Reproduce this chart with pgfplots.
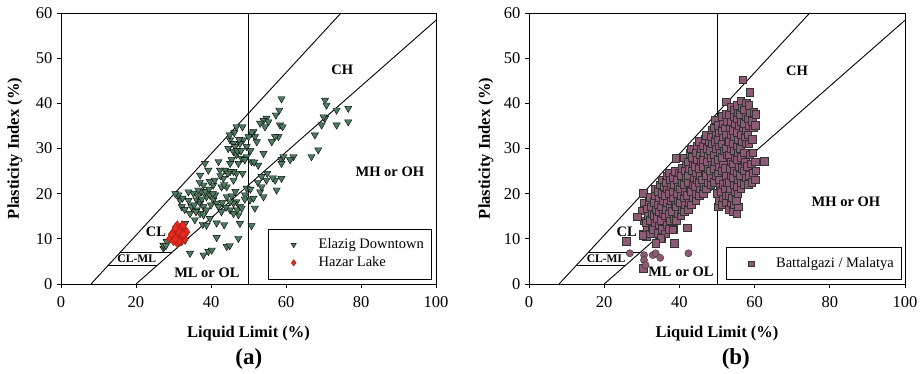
\documentclass[border=0pt]{standalone}
\usepackage{fontspec}
\setmainfont{Liberation Serif}
\usepackage{pgfplots}
\pgfplotsset{compat=1.18}
\definecolor{elz}{HTML}{4E7B60}
\definecolor{hzr}{HTML}{E62A1E}
\definecolor{btg}{HTML}{8C5A74}
\tikzset{lab/.style={font=\bfseries\fontsize{14.5}{17}\selectfont}}
\pgfplotsset{
  casa/.style={
    scale only axis, height=271pt, clip=false,
    xmin=0,xmax=100,ymin=0,ymax=60,
    xtick={0,20,...,100}, ytick={0,10,...,60},
    tick align=outside, xtick pos=bottom, ytick pos=left, major tick length=4pt,
    axis line style={line width=0.8pt}, tick style={line width=0.8pt, black},
    /pgf/number format/assume math mode=true,
    tick label style={font=\fontsize{16.5}{19}\selectfont, black},
    xticklabel style={yshift=-4.5pt},
    yticklabel style={xshift=-1pt},
    label style={font=\bfseries\fontsize{16.5}{19}\selectfont},
    xlabel={Liquid Limit (\%)}, ylabel={Plasticity Index (\%)},
    xlabel style={at={(axis description cs:0.5,-0.181)}, anchor=center},
    legend cell align=left,
    legend style={draw=black, line width=0.6pt, inner xsep=0pt, inner ysep=8.5pt,
      row sep=3pt, font=\fontsize{14.5}{17}\selectfont,
      nodes={inner sep=0pt, text height=11pt, text depth=4pt}},
  },
  zone/.style={black, line width=0.9pt, forget plot},
  legimg/.style={legend image code/.code={\path[draw=none] (0pt,0pt) -- (50pt,0pt); \draw[##1, only marks, mark size=#1] plot coordinates {(25pt,0pt)};}},
}
\begin{document}
\begin{tikzpicture}[x=1pt,y=1pt]
\useasboundingbox (0,0) rectangle (924,373);
% ---------------- (a)
\begin{axis}[casa, at={(61pt,89pt)}, anchor=south west, width=375pt,
  ylabel style={at={(axis description cs:-0.1227,0.5)}, anchor=center},
  legend style={at={(axis description cs:0.987,0.018)}, anchor=south east}]
\addplot[zone] coordinates {(8,0) (74.667,60)};
\addplot[zone] coordinates {(20,0) (100,58.4)};
\addplot[zone] coordinates {(50,0) (50,60)};
\addplot[zone] coordinates {(12.44,4) (25.48,4)};
\addplot[zone] coordinates {(15.78,7) (29.59,7)};
\addplot[only marks, mark=triangle*, mark size=4.2pt, mark options={rotate=180, fill=elz, draw=black, line width=0.4pt}, legimg=3pt] coordinates {
(58.8,41.0) (58.2,38.5) (57.3,37.4) (58.4,35.2) (59.1,34.8) (54.8,36.7) (54.0,36.2) (55.3,35.9)
(54.4,34.8) (53.1,35.6) (58.0,32.6) (57.1,32.6) (56.2,31.5) (51.3,33.7) (51.7,32.6) (52.2,31.5)
(54.0,28.9) (52.6,26.3) (50.8,33.4) (50.0,32.6) (49.5,30.4) (48.6,31.9) (47.7,31.1) (46.8,34.8)
(48.4,34.8) (45.1,31.9) (46.0,31.1) (44.6,30.0) (46.0,29.3) (46.8,28.6) (45.5,27.5) (48.2,27.8)
(49.5,28.2) (46.4,30.4) (45.1,26.7) (47.3,26.7) (48.4,24.5) (46.8,24.5) (46.0,24.9) (45.1,24.9)
(43.7,25.2) (42.4,25.2) (42.0,27.1) (43.3,23.4) (44.2,21.5) (42.8,21.5) (40.6,21.9) (39.7,22.7)
(39.3,25.2) (38.4,26.7) (37.1,24.1) (38.0,21.9) (37.5,20.4) (36.6,20.8) (35.3,20.1) (34.0,20.4)
(36.2,18.6) (37.1,17.9) (38.0,17.1) (38.8,19.3) (39.7,19.7) (40.6,18.6) (41.5,17.9) (41.1,19.7)
(42.0,17.1) (34.8,17.1) (34.4,15.6) (36.2,16.4) (37.1,15.6) (35.7,14.2) (33.1,13.4) (31.7,18.6)
(32.2,17.1) (31.3,19.7) (32.4,19.0) (38.0,15.3) (38.8,16.4) (39.7,14.5) (32.2,9.4) (33.1,9.7)
(27.3,7.9) (27.3,8.6) (28.2,9.4) (34.4,6.8) (38.0,6.4) (39.3,7.2) (40.2,7.5) (41.5,10.3)
(43.5,13.1) (44.2,8.3) (47.3,10.1) (47.7,13.4) (50.8,12.9) (47.3,15.3) (47.7,17.1) (46.8,18.2)
(46.0,17.9) (45.1,18.2) (44.2,19.3) (42.8,16.0) (45.1,16.4) (46.0,15.6) (47.0,16.4) (48.2,16.8)
(49.1,19.7) (50.4,18.6) (51.3,19.0) (51.7,16.8) (49.5,21.2) (53.1,20.4) (54.0,19.3) (53.5,23.8)
(54.8,23.0) (57.1,23.0) (57.5,20.8) (58.8,23.4) (58.8,27.5) (59.3,28.2) (58.8,26.7) (62.0,28.2)
(61.1,27.5) (66.8,28.2) (67.7,33.0) (68.6,29.7) (69.5,35.2) (70.4,36.7) (70.4,40.7) (70.8,39.6)
(73.5,38.5) (73.5,35.2) (76.6,38.9) (76.6,35.9) (70.0,37.0) (50.8,27.1)
(36.5,19.5) (37.5,18.8) (38.5,20.5) (35.5,17.5) (39.5,21) (40.5,20) (41,23) (43.5,22)
(44.5,24.5) (42.5,24) (37,22.5) (36,16) (40,17.5) (43,18) (44,17) (45.5,19.5) (46.5,20.5)
(46,23) (47,29.5) (47.5,32) (46.2,33.5) (45,33) (49,27.5) (48,29.5) (50.5,29.5) (51.5,27)
(52.5,22.5) (53.5,21.5) (55,24.5) (56.5,23.5) (49,18.8) (50.5,21) (30.5,20) (33,16.5)
(34,18.5) (28,8.5) (45,8.5) (37.8,13.2) (38.8,13) (41.5,13.5)
};
\addlegendentry{Elazig Downtown\kern7pt}
\addplot[only marks, mark=diamond*, mark size=4.6pt, mark options={fill=hzr, draw=hzr!70!black, line width=0.4pt}, legimg=3.2pt] coordinates {
(29,10) (30,9.5) (30,10.5) (30,11.5) (31,9) (31,10) (31,11) (31,12) (31,13)
(32,9.5) (32,10.5) (32,11.5) (32,12.5) (33,10) (33,11) (33,12) (30.5,12.5)
(32.5,13) (31.5,9.5) (29.5,11) (33.5,11.5) (31.5,11.5) (30.5,10) (32.5,11)
};
\addlegendentry{Hazar Lake}
\node[lab] at (axis cs:75,47.4) {CH};
\node[lab] at (axis cs:87.7,24.8) {MH or OH};
\node[lab] at (axis cs:25.3,11.5) {CL};
\node[font=\bfseries\fontsize{11.6}{14}\selectfont] at (axis cs:20.2,5.5) {CL-ML};
\node[lab] at (axis cs:38.9,2.4) {ML or OL};
\node[font=\bfseries\fontsize{23}{27}\selectfont] at (axis description cs:0.501,-0.277) {(a)};
\end{axis}
% ---------------- (b)
\begin{axis}[casa, at={(529pt,89pt)}, anchor=south west, width=376pt,
  ylabel style={at={(axis description cs:-0.1144,0.5)}, anchor=center},
  legend style={at={(axis description cs:0.992,0.015)}, anchor=south east}]
\addplot[zone] coordinates {(8,0) (74.667,60)};
\addplot[zone] coordinates {(20,0) (100,58.4)};
\addplot[zone] coordinates {(50,0) (50,60)};
\addplot[zone] coordinates {(12.44,4) (25.48,4)};
\addplot[zone] coordinates {(15.78,7) (29.59,7)};
\addplot[only marks, mark=square*, mark size=3.8pt, mark options={fill=btg, draw=black!80, line width=0.4pt}, legimg=2.6pt] coordinates {
(30.3,20.1) (30.2,11) (30.6,14) (30.1,16.2) (30.7,18)
(31.2,10.5) (31.5,12.2) (31.1,13.6) (31.6,15.1) (31.3,16.7) (31.8,18.2)
(32.3,11.1) (32.6,12.6) (32.1,14.1) (32.7,15.6) (32.4,17.1) (32.2,19.2)
(33.1,12.1) (33.5,13.6) (33.2,15.2) (33.7,16.6) (33.3,18.1) (33.6,19.6) (33.4,21.1)
(34.2,11.2) (34.6,13.1) (34.1,14.6) (34.5,16.1) (34.3,17.6) (34.7,19.1) (34.4,20.6) (34.8,22)
(35.3,10.2) (35.5,12.1) (35.1,14.1) (35.7,15.6) (35.2,17.1) (35.6,18.6) (35.4,20.1) (35.8,21.6) (35.3,23.1)
(36.3,11.1) (36.6,13.1) (36.1,15.1) (36.5,16.6) (36.8,18.1) (36.2,19.6) (36.7,21.1) (36.4,22.6) (36.6,24)
(37.2,12.1) (37.6,14.1) (37.1,15.6) (37.5,17.1) (37.8,18.6) (37.3,20.1) (37.7,21.6) (37.4,23.1) (37.2,24.6)
(38.3,12.2) (38.5,14.6) (38.1,16.1) (38.7,17.6) (38.4,19.1) (38.2,20.6) (38.6,22.1) (38.3,23.6) (38.8,25)
(39.2,14.1) (39.6,15.6) (39.1,17.1) (39.5,18.6) (39.3,20.1) (39.7,21.6) (39.4,23.1) (39.8,24.6)
(40.3,15.1) (40.6,16.6) (40.1,18.1) (40.5,19.6) (40.2,21.1) (40.7,22.6) (40.4,24.1) (40.8,25.6)
(41.2,16.1) (41.6,17.6) (41.1,19.1) (41.5,20.6) (41.3,22.1) (41.7,23.6) (41.4,25.1) (41.8,26.6) (41.2,28)
(42.3,16.6) (42.5,18.1) (42.1,19.6) (42.7,21.1) (42.4,22.6) (42.2,24.1) (42.6,25.6) (42.3,27.1) (42.8,29)
(43.2,17.6) (43.6,19.1) (43.1,20.6) (43.5,22.1) (43.8,23.6) (43.3,25.1) (43.7,26.6) (43.4,28.1) (43.2,30)
(44.3,18.6) (44.5,20.1) (44.1,21.6) (44.7,23.1) (44.4,24.6) (44.2,26.1) (44.6,27.6) (44.3,29.1) (44.8,30.6)
(45.2,19.6) (45.6,21.1) (45.1,22.6) (45.5,24.1) (45.3,25.6) (45.7,27.1) (45.4,28.6) (45.8,30.1) (45.2,31.6)
(46.3,20.1) (46.5,21.6) (46.1,23.1) (46.7,24.6) (46.4,26.1) (46.2,27.6) (46.6,29.1) (46.3,30.6) (46.8,32.1)
(47.2,21.1) (47.6,22.6) (47.1,24.1) (47.5,25.6) (47.3,27.1) (47.7,28.6) (47.4,30.1) (47.8,31.6) (47.2,33)
(48.3,22.1) (48.5,23.6) (48.1,25.1) (48.7,26.6) (48.4,28.1) (48.2,29.6) (48.6,31.1) (48.3,32.6) (48.8,34.2)
(49.2,22.6) (49.6,24.1) (49.1,25.6) (49.5,27.1) (49.3,28.6) (49.7,30.1) (49.4,31.6) (49.8,33.1) (49.2,34.6) (49.4,36.4)
(50.3,17.1) (50.5,18.6) (50.1,20.1) (50.7,21.6) (50.4,23.1) (50.2,24.6) (50.6,26.1) (50.3,27.6) (50.8,29.1) (50.4,30.6) (50.2,32.1) (50.6,33.6) (50.3,35.1)
(51.2,17.6) (51.6,19.1) (51.1,20.6) (51.5,22.1) (51.3,25.1) (51.7,26.6) (51.4,28.1) (51.8,29.6) (51.2,31.1) (51.6,32.6) (51.3,34.1) (51.7,35.6) (51.4,37.1)
(52.3,18.1) (52.5,19.6) (52.1,21.1) (52.7,22.6) (52.4,24.1) (52.2,25.6) (52.6,28.6) (52.3,30.1) (52.8,31.6) (52.4,33.1) (52.2,34.6) (52.6,36.1) (52.3,37.6) (52.4,40.4)
(53.2,16.6) (53.6,18.1) (53.1,19.6) (53.5,21.1) (53.3,22.6) (53.7,24.1) (53.4,25.6) (53.8,27.1) (53.2,28.6) (53.6,30.1) (53.3,31.6) (53.7,33.1) (53.4,34.6) (53.8,36.1) (53.2,37.6) (53.6,39.1)
(54.3,16.1) (54.5,17.6) (54.1,19.1) (54.7,20.6) (54.4,22.1) (54.2,23.6) (54.6,25.1) (54.3,26.6) (54.8,28.1) (54.4,29.6) (54.2,31.1) (54.6,32.6) (54.3,34.1) (54.7,35.6) (54.4,37.1) (54.6,38.6)
(55.2,15.6) (55.6,17.1) (55.1,18.6) (55.5,20.1) (55.3,21.6) (55.7,23.1) (55.4,24.6) (55.8,26.1) (55.2,27.6) (55.6,29.1) (55.3,30.6) (55.7,32.1) (55.4,33.6) (55.8,35.1) (55.2,36.6) (55.6,38.1) (55.4,39.6)
(56.3,21.1) (56.5,22.6) (56.1,24.1) (56.7,25.6) (56.4,28.1) (56.2,30.1) (56.6,31.6) (56.3,33.1) (56.8,34.6) (56.4,36.1) (56.2,37.6) (56.6,39.1) (56.3,40.6)
(57.2,22.1) (57.6,23.6) (57.1,25.1) (57.5,27.1) (57.3,29.1) (57.7,31.1) (57.4,32.6) (57.8,34.1) (57.2,35.6) (57.6,37.1) (57.3,38.6) (57.7,40.1)
(58.3,22.1) (58.5,24.1) (58.1,26.1) (58.7,28.6) (58.4,31.1) (58.2,33.1) (58.6,35.1) (58.3,36.6) (58.8,38.1) (58.4,39.6)
(59.2,22.6) (59.6,24.6) (59.1,26.6) (59.5,29.1) (59.3,32.1) (59.7,34.6) (59.4,36.1) (59.8,38.1)
(60.1,23.1) (60.3,25.1) (60.2,27.1) (60.1,35.1) (60.3,37.6)
(56.8,45.2) (58.7,42.4) (62.6,27.2) (39,27.8) (28.8,14.9) (25.9,9.5) (42,12.5) (38.6,9)
(38.2,12) (35,10.1) (33.7,9) (30.2,10.8) (30.3,3.5)
};
\addlegendentry{Battalgazi / Malatya\kern8pt}
\addplot[only marks, mark=*, mark size=3.6pt, mark options={fill=btg, draw=black!80, line width=0.4pt}, forget plot] coordinates {
(26.8,6.8) (30.6,6.4) (30.6,5.3) (31,4.2) (32.9,6.4) (33.7,6.8) (34.9,5.8) (42.4,6.8)
};
\node[lab] at (axis cs:71.3,47.2) {CH};
\node[lab] at (axis cs:84.3,18.1) {MH or OH};
\node[lab] at (axis cs:26,11.5) {CL};
\node[font=\bfseries\fontsize{11.6}{14}\selectfont] at (axis cs:20.5,5.5) {CL-ML};
\node[lab] at (axis cs:40.4,2.7) {ML or OL};
\node[font=\bfseries\fontsize{23}{27}\selectfont] at (axis description cs:0.55,-0.277) {(b)};
\end{axis}
\end{tikzpicture}
\end{document}
